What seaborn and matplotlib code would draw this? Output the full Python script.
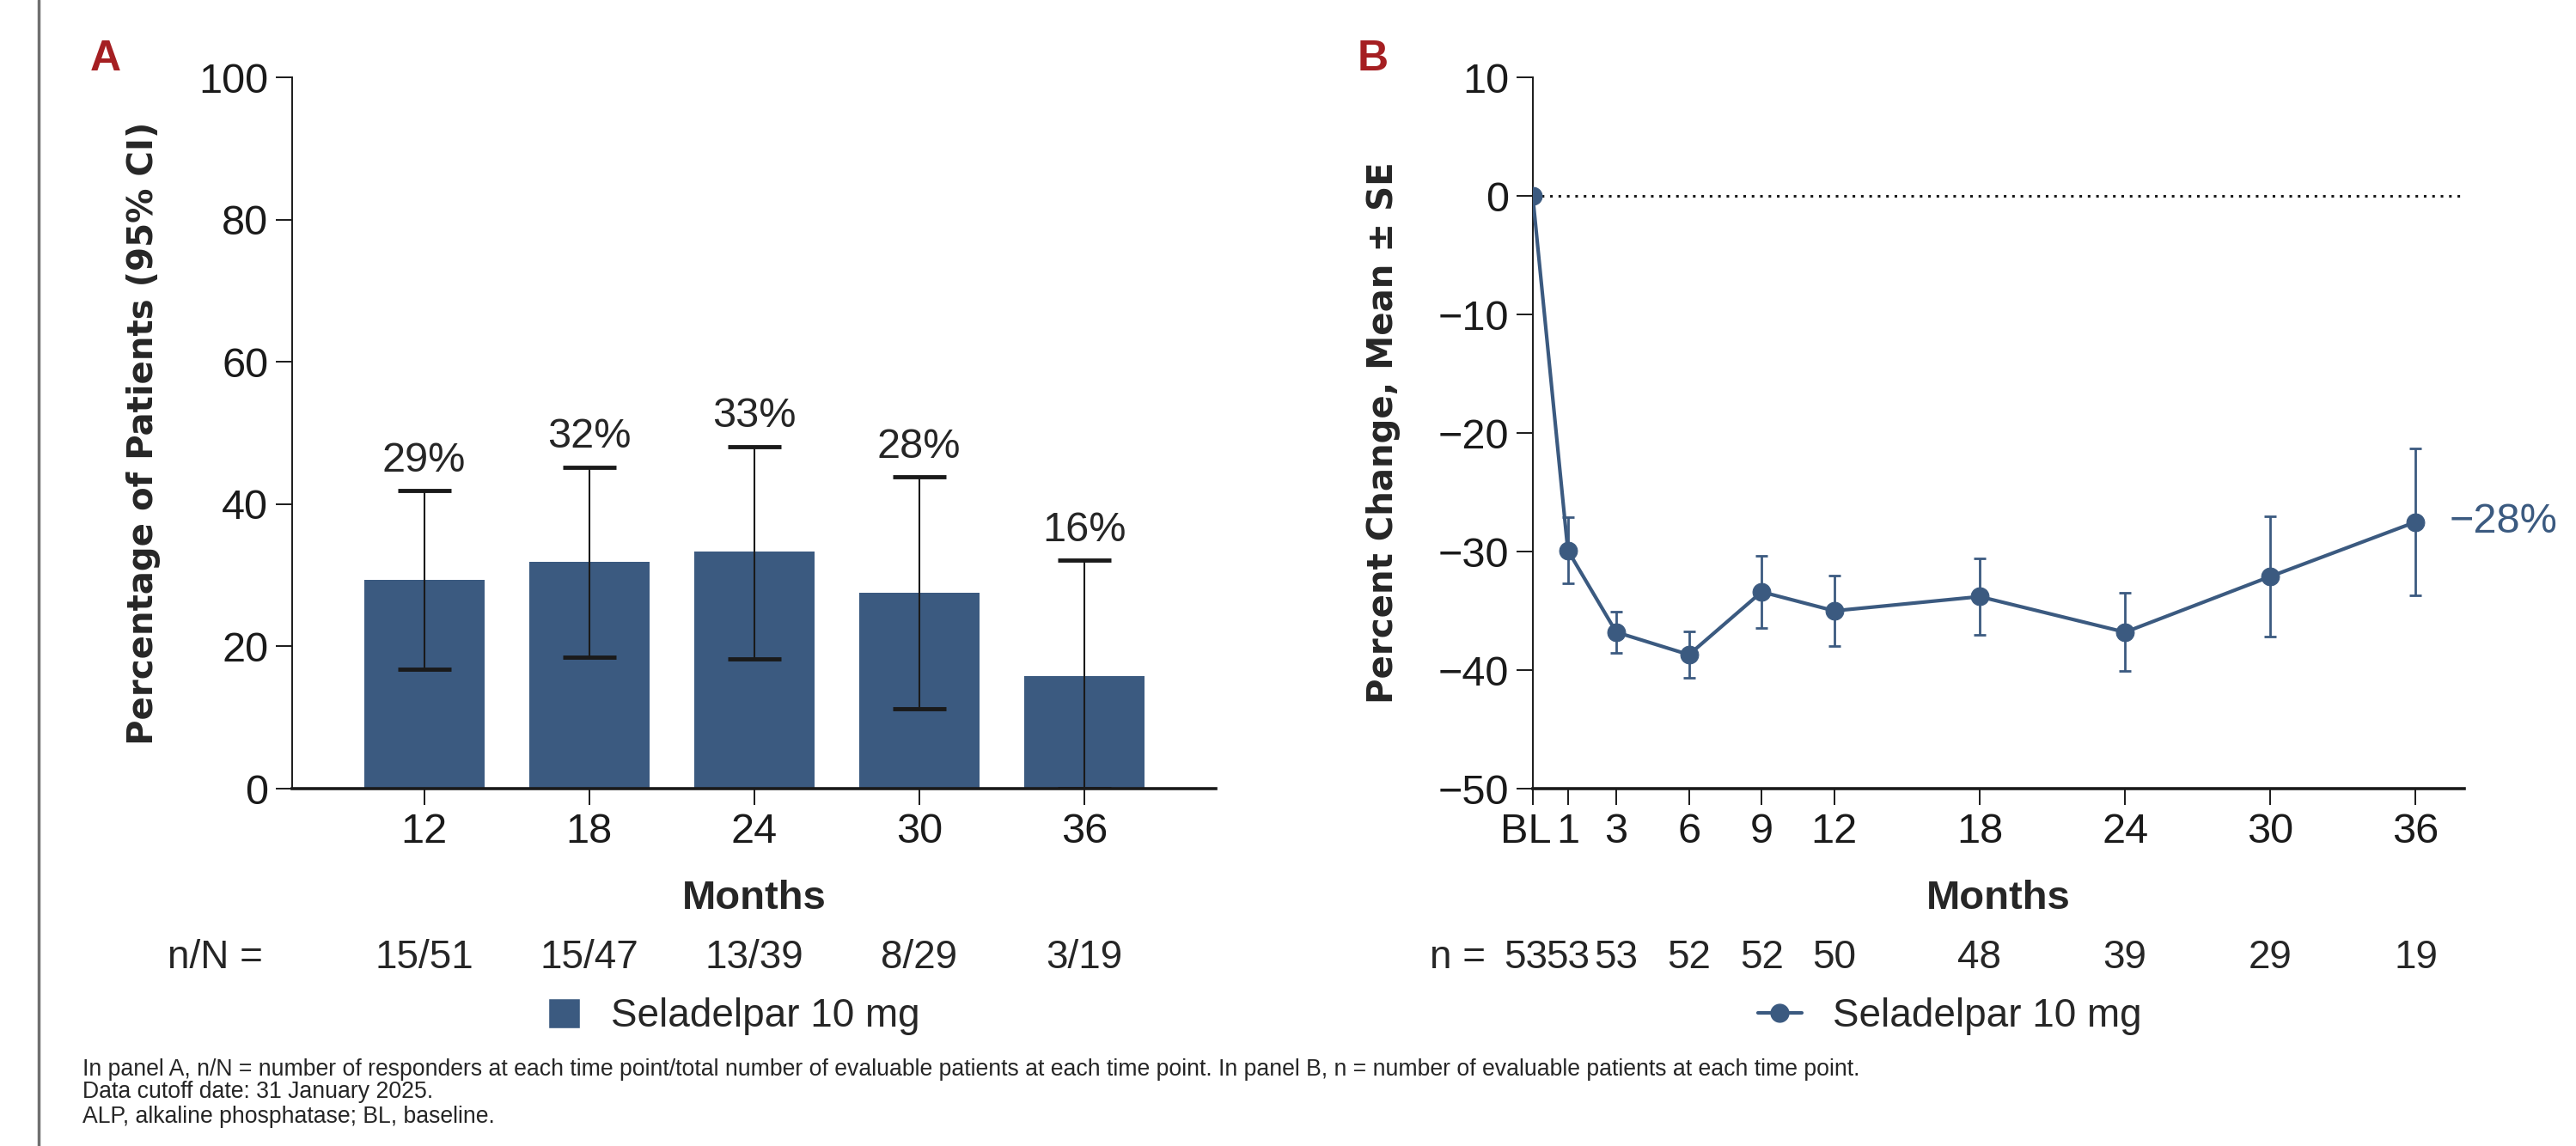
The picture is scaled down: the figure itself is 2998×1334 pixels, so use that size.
import matplotlib
matplotlib.use("Agg")
import matplotlib.pyplot as plt
import matplotlib.transforms as mtransforms
from matplotlib.lines import Line2D
from matplotlib.patches import Patch
import pandas as pd
import seaborn as sns

# Panel A: response rate by month
months_a = ["12", "18", "24", "30", "36"]
resp_pct = [29.4, 31.9, 33.3, 27.6, 15.8]
ci_low = [16.8, 18.5, 18.3, 11.2, 0.0]
ci_high = [41.9, 45.2, 48.1, 43.8, 32.1]
pct_labels = ["29%", "32%", "33%", "28%", "16%"]
nN_labels = ["15/51", "15/47", "13/39", "8/29", "3/19"]

# Panel B: percent change from baseline
months_b = [0, 1, 3, 6, 9, 12, 18, 24, 30, 36]
tick_b = ["BL", "1", "3", "6", "9", "12", "18", "24", "30", "36"]
mean_chg = [0.0, -29.9, -36.8, -38.7, -33.4, -35.0, -33.8, -36.8, -32.1, -27.5]
se_chg = [0.0, 2.8, 1.75, 1.95, 3.05, 3.0, 3.25, 3.3, 5.05, 6.2]
n_b = ["53", "53", "53", "52", "52", "50", "48", "39", "29", "19"]
last_label = "\u221228%"

BLUE = "#3B5A80"
RED = "#A51F22"
BL_POS = -0.45  # baseline drawn slightly left of month 0

sns.set_theme(style="ticks")
plt.rcParams["font.family"] = ["Liberation Sans", "DejaVu Sans"]
plt.rcParams["axes.unicode_minus"] = True

FS = 35
fig = plt.figure(figsize=(29.98, 13.34), dpi=100)
axA = fig.add_axes([0.1134, 0.3118, 0.3587, 0.6207])
axB = fig.add_axes([0.595, 0.3118, 0.3616, 0.6207])
shift_left = mtransforms.ScaledTranslation(-8 / 100, 0, fig.dpi_scale_trans)

# ---- Panel A
df_a = pd.DataFrame({"month": months_a, "pct": resp_pct})
sns.barplot(data=df_a, x="month", y="pct", color=BLUE, saturation=1, width=0.73,
            errorbar=None, linewidth=0, ax=axA)
xa = list(range(len(months_a)))
yerr = [[p - l for p, l in zip(resp_pct, ci_low)], [h - p for p, h in zip(resp_pct, ci_high)]]
axA.errorbar(xa, resp_pct, yerr=yerr, fmt="none", ecolor="#1a1a1a", elinewidth=1.5,
             capsize=22, capthick=3.5)
for i in xa:
    axA.text(i, ci_high[i] + 1.5, pct_labels[i], ha="center", va="bottom", fontsize=FS)
axA.set_ylim(0, 100)
axA.set_yticks(range(0, 101, 20))
axA.set_xlim(-0.8, 4.8)
axA.set_ylabel("Percentage of Patients (95% CI)", family="DejaVu Sans", fontweight="bold",
               fontsize=29)
axA.set_xlabel("Months", fontweight="bold", fontsize=34, labelpad=24)

# ---- Panel B
x_b = [m if m > 0 else BL_POS for m in months_b]
df_b = pd.DataFrame({"x": x_b, "chg": mean_chg})
axB.axhline(0, ls=(0, (1, 2.2)), color="#1a1a1a", lw=2.2, zorder=1)
sns.lineplot(data=df_b, x="x", y="chg", color=BLUE, marker="o", markersize=15, linewidth=3,
             markeredgecolor=BLUE, ax=axB, zorder=3)
axB.errorbar(x_b, mean_chg, yerr=se_chg, fmt="none", ecolor=BLUE, elinewidth=2,
             capsize=5, capthick=2, zorder=2)
axB.annotate(last_label, (x_b[-1], mean_chg[-1]), xytext=(28, 0), textcoords="offset points",
             va="center", ha="left", color=BLUE, fontsize=FS)
axB.set_ylim(-50, 10)
axB.set_yticks(range(-50, 11, 10))
axB.set_xlim(BL_POS, 38)
axB.set_xticks(x_b)
axB.set_xticklabels(tick_b)
axB.set_ylabel("Percent Change, Mean \u00b1 SE", family="DejaVu Sans", fontweight="bold",
               fontsize=29)
axB.set_xlabel("Months", fontweight="bold", fontsize=34, labelpad=24)

for ax in (axA, axB):
    sns.despine(ax=ax)
    ax.spines["left"].set_linewidth(1.4)
    ax.spines["bottom"].set_linewidth(2.6)
    ax.spines["left"].set_color("#1a1a1a")
    ax.spines["bottom"].set_color("#1a1a1a")
    ax.tick_params(axis="both", length=14, width=1.4, color="#1a1a1a", labelsize=FS,
                   labelcolor="#1a1a1a", pad=6)
    ax.yaxis.set_label_coords(-0.142, 0.5)

bl_lbl = axB.xaxis.get_major_ticks()[0].label1
bl_lbl.set_transform(bl_lbl.get_transform() + shift_left)

# n rows
trA = mtransforms.blended_transform_factory(axA.transData, fig.transFigure)
trB = mtransforms.blended_transform_factory(axB.transData, fig.transFigure)
fig.text(0.0837, 0.164, "n/N =", ha="center", va="center", fontsize=33)
for i, s in zip(xa, nN_labels):
    axA.text(i, 0.164, s, transform=trA, ha="center", va="center", fontsize=33)
fig.text(0.566, 0.164, "n =", ha="center", va="center", fontsize=33)
for k, (x, s) in enumerate(zip(x_b, n_b)):
    tr = trB + shift_left if k == 0 else trB
    axB.text(x, 0.164, s, transform=tr, ha="center", va="center", fontsize=33)

# legends
fig.legend([Patch(facecolor=BLUE)], ["Seladelpar 10 mg"], loc="center",
           bbox_to_anchor=(0.285, 0.113), frameon=False, fontsize=33,
           handlelength=0.8, handleheight=0.8)
fig.legend([Line2D([0], [0], color=BLUE, marker="o", lw=3, ms=15)], ["Seladelpar 10 mg"],
           loc="center", bbox_to_anchor=(0.757, 0.113), frameon=False, fontsize=33,
           handlelength=1.1)

# panel letters
fig.text(0.041, 0.948, "A", color=RED, fontweight="bold", fontsize=36,
         ha="center", va="center")
fig.text(0.533, 0.948, "B", color=RED, fontweight="bold", fontsize=36,
         ha="center", va="center")

# footnotes
notes = [
    "In panel A, n/N = number of responders at each time point/total number of evaluable patients at each time point. In panel B, n = number of evaluable patients at each time point.",
    "Data cutoff date: 31 January 2025.",
    "ALP, alkaline phosphatase; BL, baseline.",
]
for y, s in zip([0.0667, 0.047, 0.0255], notes):
    fig.text(0.032, y, s, ha="left", va="center", fontsize=19.2)

fig.add_artist(Line2D([0.015, 0.015], [0, 1], transform=fig.transFigure, color="#707070", lw=2.5))

fig.savefig("out.png", dpi=100)
